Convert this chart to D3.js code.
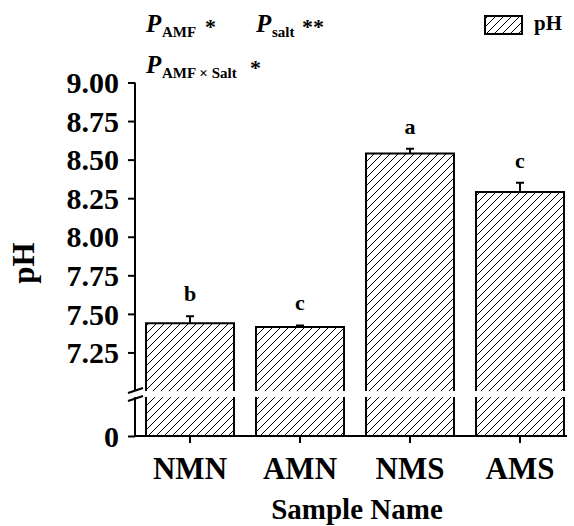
<!DOCTYPE html>
<html>
<head>
<meta charset="utf-8">
<script src="https://cdn.jsdelivr.net/npm/d3@7"></script>
<style>
  body { margin: 0; background: #fff; }
  svg text { font-family: "Liberation Serif", "DejaVu Serif", serif; font-weight: bold; fill: #000; }
</style>
</head>
<body>
<div id="chart"></div>
<script>
// 数据
const samples = ['NMN', 'AMN', 'NMS', 'AMS'];
const phMean = [7.44, 7.415, 8.54, 8.29];
const phErr = [0.045, 0.01, 0.03, 0.06];
const sigLetters = ['b', 'c', 'a', 'c'];
const upperTicks = [7.25, 7.5, 7.75, 8.0, 8.25, 8.5, 8.75, 9.0];
const lowerTicks = [0];

const width = 574, height = 526;
const serif = '"Liberation Serif", "DejaVu Serif", serif';

const svg = d3.select('#chart').append('svg')
  .attr('width', width)
  .attr('height', height);

// 斜线填充
const defs = svg.append('defs');
const pat = defs.append('pattern')
  .attr('id', 'hatch')
  .attr('patternUnits', 'userSpaceOnUse')
  .attr('width', 8)
  .attr('height', 8);
pat.append('rect').attr('width', 8).attr('height', 8).attr('fill', '#fff');
pat.append('path')
  .attr('d', 'M-2,2 L2,-2 M0,8 L8,0 M6,10 L10,6')
  .attr('stroke', '#000')
  .attr('stroke-width', 1);

// 比例尺（断轴：上段 7-9，下段 0 附近）
const x = d3.scaleBand().domain(samples).range([135, 575]).paddingInner(0.2).paddingOuter(0.1);
const yTop = d3.scaleLinear().domain([7, 9]).range([391, 82.5]);
const yBot = d3.scaleLinear().domain([0, 7]).range([436, 397]);
const breakTop = yTop(7), breakBot = yBot(7);

const bars = samples.map((s, i) => ({ s, v: phMean[i], e: phErr[i], l: sigLetters[i] }));

// 柱子上段
svg.selectAll('.bar-up').data(bars).enter().append('rect')
  .attr('x', d => x(d.s)).attr('width', x.bandwidth())
  .attr('y', d => yTop(d.v)).attr('height', d => breakTop - yTop(d.v))
  .attr('fill', 'url(#hatch)');
svg.selectAll('.bar-up-edge').data(bars).enter().append('path')
  .attr('d', d => `M${x(d.s)},${breakTop} V${yTop(d.v)} H${x(d.s) + x.bandwidth()} V${breakTop}`)
  .attr('fill', 'none').attr('stroke', '#000').attr('stroke-width', 2);

// 柱子下段
svg.selectAll('.bar-low').data(bars).enter().append('rect')
  .attr('x', d => x(d.s)).attr('width', x.bandwidth())
  .attr('y', breakBot).attr('height', yBot(0) - breakBot)
  .attr('fill', 'url(#hatch)');
svg.selectAll('.bar-low-edge').data(bars).enter().append('path')
  .attr('d', d => `M${x(d.s)},${breakBot} V${yBot(0)} M${x(d.s) + x.bandwidth()},${breakBot} V${yBot(0)}`)
  .attr('fill', 'none').attr('stroke', '#000').attr('stroke-width', 2);

// 误差线
const cx = d => x(d.s) + x.bandwidth() / 2;
svg.selectAll('.err').data(bars).enter().append('path')
  .attr('d', d => `M${cx(d)},${yTop(d.v)} V${yTop(d.v + d.e)} M${cx(d) - 4},${yTop(d.v + d.e)} H${cx(d) + 4}`)
  .attr('fill', 'none').attr('stroke', '#000').attr('stroke-width', 2);

// 显著性字母
svg.selectAll('.sig').data(bars).enter().append('text')
  .attr('x', cx).attr('y', d => yTop(d.v + d.e) - 15)
  .attr('text-anchor', 'middle')
  .style('font-size', '22px')
  .text(d => d.l);

// Y 轴上段
const axUp = svg.append('g').attr('transform', 'translate(135,0)')
  .call(d3.axisLeft(yTop).tickValues(upperTicks).tickFormat(d3.format('.2f')).tickSize(7).tickPadding(9));
axUp.select('.domain').attr('d', `M0,${yTop(9)} V${breakTop}`);
// Y 轴下段
const axLow = svg.append('g').attr('transform', 'translate(135,0)')
  .call(d3.axisLeft(yBot).tickValues(lowerTicks).tickFormat(d3.format('d')).tickSize(7).tickPadding(9));
axLow.select('.domain').attr('d', `M0,${breakBot} V${yBot(0)}`);
[axUp, axLow].forEach(g => {
  g.attr('font-family', null);
  g.selectAll('path, line').attr('stroke', '#000').attr('stroke-width', 2);
  g.selectAll('text').style('font-size', '30px').style('font-family', serif).attr('dy', '0.34em');
});

// 断轴标记
svg.append('path')
  .attr('d', `M128,${breakTop + 2} L143,${breakTop - 3} M128,${breakBot + 4} L143,${breakBot - 1}`)
  .attr('stroke', '#000').attr('stroke-width', 2);

// X 轴
const axX = svg.append('g').attr('transform', `translate(0,${yBot(0)})`)
  .call(d3.axisBottom(x).tickSize(7).tickPadding(8));
axX.attr('font-family', null);
axX.select('.domain').attr('d', 'M134,0 H567');
axX.selectAll('path, line').attr('stroke', '#000').attr('stroke-width', 2);
axX.selectAll('text').style('font-size', '31px').style('font-family', serif).attr('dy', '0.9em');

// 轴标题
svg.append('text')
  .attr('x', 357).attr('y', 519)
  .attr('text-anchor', 'middle')
  .style('font-size', '29px')
  .text('Sample Name');
svg.append('text')
  .attr('transform', 'translate(34,263) rotate(-90)')
  .attr('text-anchor', 'middle')
  .style('font-size', '31px')
  .text('pH');

// 显著性标注
function pLabel(px, py, sub, stars, starX) {
  const t = svg.append('text').attr('y', py);
  t.append('tspan').attr('x', px).style('font-size', '25px').style('font-style', 'italic').text('P');
  t.append('tspan').attr('x', px + 16).attr('dy', 5).style('font-size', '15px').text(sub);
  t.append('tspan').attr('x', starX).attr('dy', -3).style('font-size', '22px').text(stars);
}
pLabel(146, 32, 'AMF', '*', 205);
pLabel(256, 32, 'salt', '**', 302);
pLabel(146, 73, 'AMF × Salt', '*', 250);

// 图例
svg.append('rect')
  .attr('x', 485).attr('y', 16).attr('width', 37).attr('height', 18)
  .attr('fill', 'url(#hatch)').attr('stroke', '#000').attr('stroke-width', 2);
svg.append('text')
  .attr('x', 534).attr('y', 30)
  .style('font-size', '21px')
  .text('pH');
</script>
</body>
</html>
